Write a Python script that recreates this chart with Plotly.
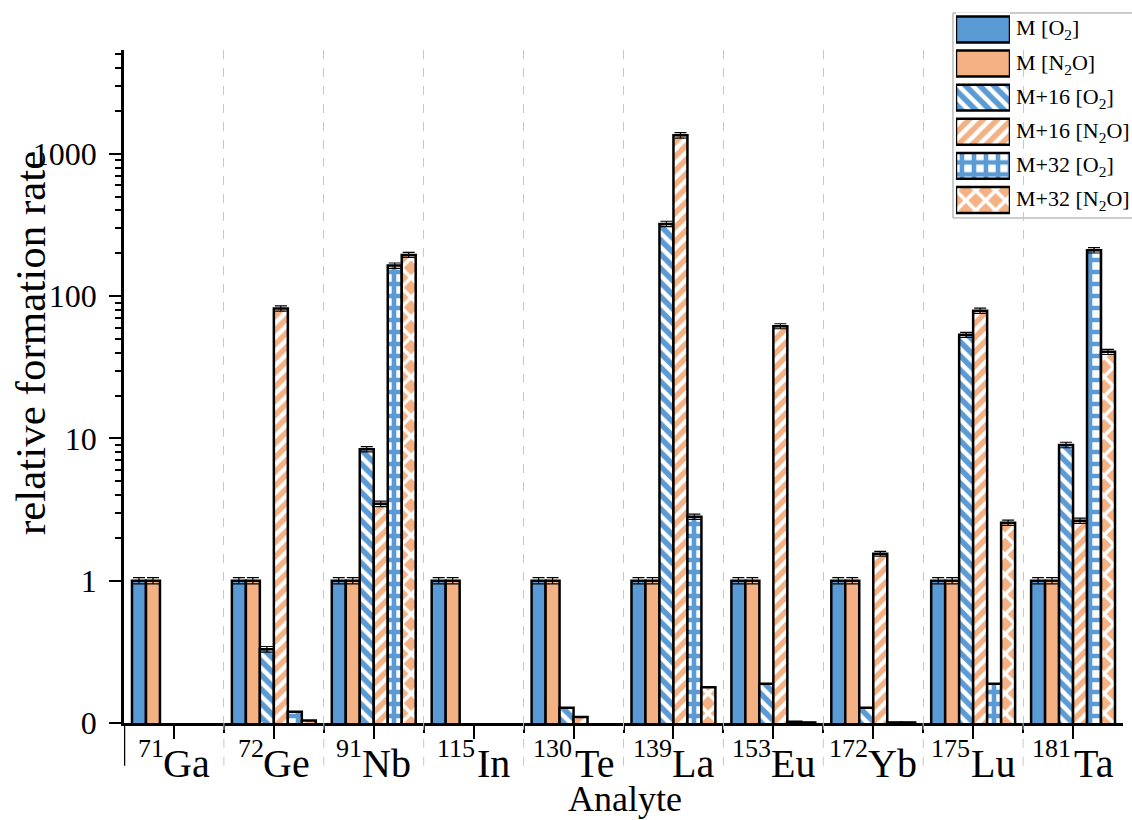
import plotly.graph_objects as go

# ---------------- data ----------------
mass_numbers = ["71", "72", "91", "115", "130", "139", "153", "172", "175", "181"]
elements = ["Ga", "Ge", "Nb", "In", "Te", "La", "Eu", "Yb", "Lu", "Ta"]

m_o2 = [1, 1, 1, 1, 1, 1, 1, 1, 1, 1]
m_n2o = [1, 1, 1, 1, 1, 1, 1, 1, 1, 1]
m16_o2 = [None, 0.33, 8.4, None, 0.128, 322, 0.189, 0.128, 53.5, 9.0]
m16_n2o = [None, 82, 3.47, None, 0.11, 1350, 61.5, 1.55, 79, 2.64]
m32_o2 = [None, 0.12, 164, None, None, 2.82, 0.102, 0.101, 0.189, 210]
m32_n2o = [None, 0.104, 195, None, None, 0.178, 0.101, 0.101, 2.56, 40.6]

err_m_o2 = [0.05, 0.05, 0.05, 0.05, 0.05, 0.05, 0.05, 0.05, 0.05, 0.05]
err_m_n2o = [0.05, 0.05, 0.05, 0.05, 0.05, 0.05, 0.05, 0.05, 0.05, 0.05]
err_m16_o2 = [0, 0.015, 0.35, 0, 0, 14, 0, 0, 2.2, 0.4]
err_m16_n2o = [0, 3.5, 0.15, 0, 0, 60, 2.5, 0.06, 3.3, 0.11]
err_m32_o2 = [0, 0, 7, 0, 0, 0.12, 0, 0, 0, 9]
err_m32_n2o = [0, 0, 8, 0, 0, 0, 0, 0, 0.11, 1.7]

series_names = ["M [O<sub>2</sub>]", "M [N<sub>2</sub>O]", "M+16 [O<sub>2</sub>]",
                "M+16 [N<sub>2</sub>O]", "M+32 [O<sub>2</sub>]", "M+32 [N<sub>2</sub>O]"]
series_vals = [m_o2, m_n2o, m16_o2, m16_n2o, m32_o2, m32_n2o]
series_errs = [err_m_o2, err_m_n2o, err_m16_o2, err_m16_n2o, err_m32_o2, err_m32_n2o]

y_tickvals = [0.1, 1, 10, 100, 1000]
y_ticktext = ["0", "1", "10", "100", "1000"]

# ---------------- styles ----------------
BLUE = "rgb(91,155,213)"
ORANGE = "rgb(244,177,131)"
FONT = "Liberation Serif"
ELEM_SIZE = 40
SUP_SIZE = 26
# advance widths (em) of Liberation Serif glyphs, used to centre the two-part labels
GLYPH_EM = {"G": .722, "a": .444, "e": .444, "N": .722, "b": .5, "I": .333, "n": .5,
            "T": .611, "L": .611, "E": .611, "u": .5, "Y": .722}


def text_width(s, size):
    return sum(GLYPH_EM.get(c, 0.5) for c in s) * size


def marker_style(k):
    base = dict(line=dict(color="black", width=2.5))
    if k == 0:
        base["color"] = BLUE
    elif k == 1:
        base["color"] = ORANGE
    elif k == 2:
        base["color"] = BLUE
        base["pattern"] = dict(shape="\\", fgcolor="white", bgcolor=BLUE, fillmode="replace",
                               size=10, solidity=0.45)
    elif k == 3:
        base["color"] = ORANGE
        base["pattern"] = dict(shape="/", fgcolor="white", bgcolor=ORANGE, fillmode="replace",
                               size=10, solidity=0.45)
    elif k == 4:
        base["color"] = "white"
        base["pattern"] = dict(shape="+", fgcolor=BLUE, bgcolor="white", fillmode="replace",
                               size=12, solidity=0.62)
    else:
        base["color"] = ORANGE
        base["pattern"] = dict(shape="x", fgcolor="white", bgcolor=ORANGE, fillmode="replace",
                               size=14, solidity=0.45)
    return base


x_idx = list(range(len(elements)))
n_series = len(series_vals)
bar_w = 0.14
group_w = bar_w * n_series

fig = go.Figure()
for k in range(n_series):
    fig.add_trace(go.Bar(
        x=x_idx, y=series_vals[k], name=series_names[k],
        width=bar_w, offset=-group_w / 2 + k * bar_w,
        marker=marker_style(k),
        error_y=dict(type="data", array=series_errs[k], visible=True,
                     color="black", thickness=1.2, width=6),
        showlegend=False, xaxis="x", yaxis="y",
    ))

# ---------------- custom legend (swatches on helper axes) ----------------
for k in range(n_series):
    fig.add_trace(go.Bar(
        x=[1], y=[k], base=[0], orientation="h", width=0.76,
        marker=marker_style(k), showlegend=False, hoverinfo="skip",
        xaxis="x2", yaxis="y2",
    ))
    fig.add_annotation(text=series_names[k], xref="paper", yref="y2",
                       x=0.8909, y=k, xanchor="left", yanchor="middle", showarrow=False,
                       font=dict(family=FONT, size=22, color="black"))

fig.add_shape(type="rect", xref="paper", yref="paper", x0=0.8298, x1=1.03, y0=0.7083, y1=0.9958,
              line=dict(color="#999999", width=1), fillcolor="rgba(0,0,0,0)", layer="below")

# x tick labels: mass number (superscript) + element symbol, centred on each category
for i, mn, el in zip(x_idx, mass_numbers, elements):
    w_total = text_width(mn, SUP_SIZE) + text_width(el, ELEM_SIZE)
    fig.add_annotation(text=mn, xref="x", yref="paper", x=i, y=0,
                       xanchor="left", yanchor="middle", xshift=-w_total / 2 - 1, yshift=-25,
                       showarrow=False, borderpad=0,
                       font=dict(family=FONT, size=SUP_SIZE, color="black"))
    fig.add_annotation(text=el, xref="x", yref="paper", x=i, y=0,
                       xanchor="right", yanchor="middle", xshift=w_total / 2 + 1, yshift=-40,
                       showarrow=False, borderpad=0,
                       font=dict(family=FONT, size=ELEM_SIZE, color="black"))

# extension of boundary lines below the x axis
for b in [i + 0.5 for i in x_idx[:-1]]:
    fig.add_shape(type="line", xref="x", yref="paper", x0=b, x1=b, y0=-0.06, y1=0,
                  line=dict(color="#c8c8c8", width=1, dash="dash"))
fig.add_shape(type="line", xref="x", yref="paper", x0=-0.5, x1=-0.5, y0=-0.06, y1=0,
              line=dict(color="black", width=2.5))

PLOT_TOP = 673 / 713

fig.update_layout(
    width=1132, height=820,
    margin=dict(l=124, r=9, t=10, b=97, autoexpand=False),
    paper_bgcolor="white", plot_bgcolor="white",
    barmode="overlay",
    showlegend=False,
    font=dict(family=FONT, color="black"),
    xaxis=dict(
        domain=[0, 1], range=[-0.5, 9.5], automargin=False,
        tickmode="array", tickvals=x_idx, showticklabels=False,
        ticks="outside", ticklen=13, tickwidth=2, tickcolor="black",
        showline=True, linecolor="black", linewidth=2.5,
        showgrid=False, zeroline=False,
        minor=dict(tickmode="array", tickvals=[i + 0.5 for i in x_idx[:-1]],
                   ticks="outside", ticklen=7, tickwidth=2, tickcolor="black",
                   showgrid=True, gridcolor="#c8c8c8", gridwidth=1, griddash="dash"),
    ),
    yaxis=dict(
        domain=[0, PLOT_TOP], type="log", range=[-1, 3.73], automargin=False,
        tickmode="array", tickvals=y_tickvals, ticktext=y_ticktext,
        ticks="outside", ticklen=12, tickwidth=2, tickcolor="black",
        ticklabelstandoff=6,
        showline=True, linecolor="black", linewidth=2.5,
        showgrid=False, zeroline=False,
        tickfont=dict(family=FONT, size=32, color="black"),
        minor=dict(tickmode="array",
                   tickvals=[2, 3, 4, 5, 6, 7, 8, 9, 20, 30, 40, 50, 60, 70, 80, 90,
                             200, 300, 400, 500, 600, 700, 800, 900, 2000, 3000, 4000, 5000],
                   ticks="outside", ticklen=6, tickwidth=1.5, tickcolor="black", showgrid=False),
    ),
    xaxis2=dict(domain=[0.8328, 0.8869], range=[0, 1], visible=False, fixedrange=True,
                anchor="y2", automargin=False),
    yaxis2=dict(domain=[0.7097, 0.9966], range=[5.5, -0.5], visible=False, fixedrange=True,
                anchor="x2", automargin=False),
)

fig.add_annotation(text="relative formation rate", xref="paper", yref="paper",
                   x=-0.093, y=0.533, textangle=-90, showarrow=False,
                   xanchor="center", yanchor="middle",
                   font=dict(family=FONT, size=43, color="black"))
fig.add_annotation(text="Analyte", xref="paper", yref="paper",
                   x=0.5015, y=-0.107, showarrow=False, xanchor="center", yanchor="middle",
                   font=dict(family=FONT, size=36, color="black"))

fig.write_html("out.html", config={"displayModeBar": False},
               post_script="document.body.style.margin='0px';")
